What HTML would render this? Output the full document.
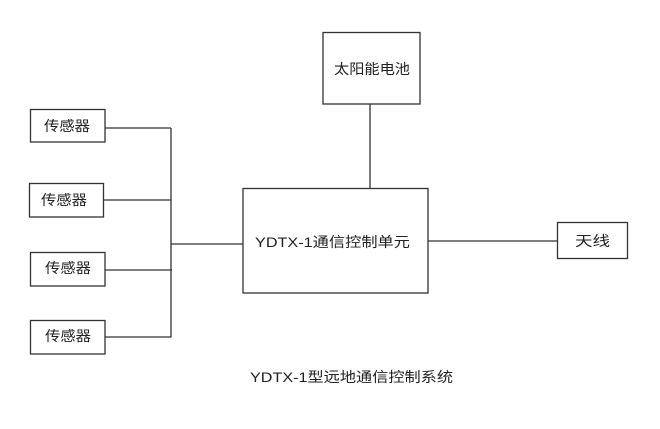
<!DOCTYPE html>
<html><head><meta charset="utf-8"><style>
html,body{margin:0;padding:0;background:#fff;}
svg{display:block;}
text{font-family:"Liberation Sans","Noto Sans CJK SC","WenQuanYi Zen Hei",sans-serif;fill:#222;font-size:14px;}
</style></head><body>
<svg width="660" height="429" viewBox="0 0 660 429" xmlns="http://www.w3.org/2000/svg">
<g fill="none" stroke="#333" stroke-width="1.3">
<rect x="323" y="32.5" width="97" height="71.5"/>
<rect x="30.5" y="109.5" width="74.5" height="32.5"/>
<rect x="29.5" y="183.5" width="74" height="33.5"/>
<rect x="30.5" y="252.5" width="74.5" height="33.5"/>
<rect x="30.5" y="320.5" width="74.5" height="33.5"/>
<rect x="243" y="188.5" width="185" height="104.5"/>
<rect x="557.5" y="222.5" width="70" height="36"/>
<line x1="370" y1="104" x2="370" y2="188.5"/>
<line x1="105" y1="128" x2="171" y2="128"/>
<line x1="103.5" y1="200" x2="171" y2="200"/>
<line x1="105" y1="270" x2="172" y2="270"/>
<line x1="105" y1="337" x2="171" y2="337"/>
<line x1="171" y1="128" x2="171" y2="337.5"/>
<line x1="171" y1="244" x2="243" y2="244"/>
<line x1="428" y1="241" x2="557.5" y2="241"/>
</g>
<text x="334" y="74" textLength="76" lengthAdjust="spacingAndGlyphs">太阳能电池</text>
<text x="44" y="131" textLength="46" lengthAdjust="spacingAndGlyphs">传感器</text>
<text x="41" y="205" textLength="46" lengthAdjust="spacingAndGlyphs">传感器</text>
<text x="45" y="273" textLength="46" lengthAdjust="spacingAndGlyphs">传感器</text>
<text x="45" y="341" textLength="46" lengthAdjust="spacingAndGlyphs">传感器</text>
<text x="255" y="247" textLength="155" lengthAdjust="spacingAndGlyphs">YDTX-1通信控制单元</text>
<text x="575" y="246" textLength="35" lengthAdjust="spacingAndGlyphs">天线</text>
<text x="250" y="382" textLength="203" lengthAdjust="spacingAndGlyphs">YDTX-1型远地通信控制系统</text>
</svg>
</body></html>
